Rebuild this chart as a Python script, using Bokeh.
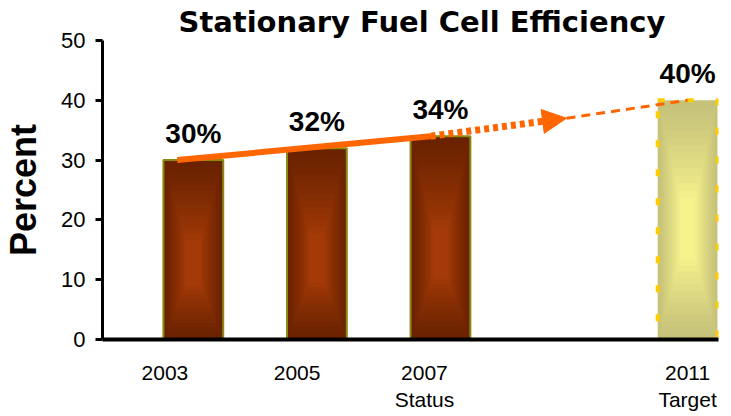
from bokeh.plotting import figure
from bokeh.models import Range1d, FixedTicker, Arrow, NormalHead, ColumnDataSource
from bokeh.core.properties import value
from bokeh.embed import file_html
from bokeh.resources import INLINE

# ---- data ----
years = [2003, 2005, 2007, 2011]
efficiency = [30, 32, 34, 40]
value_labels = ["30%", "32%", "34%", "40%"]
tick_labels = ["2003", "2005", "2007\nStatus", "2011\nTarget"]
y_ticks = [0, 10, 20, 30, 40, 50]

# ---- derived positions (one slot per two years) ----
pos = [(yr - years[0]) / 2 for yr in years]
label_shift = [-0.23, -0.16, -0.13, 0.0]   # label placement (style)
label_pos = [p_ + s for p_, s in zip(pos, label_shift)]

ORANGE = "#ff6600"
FONT = "Liberation Sans"

p = figure(width=731, height=416, output_backend="svg", toolbar_location=None,
           x_range=Range1d(-0.735, 4.25), y_range=Range1d(0, 50),
           min_border_left=100, min_border_right=13, min_border_top=39,
           min_border_bottom=77)
p.outline_line_color = None
p.grid.visible = False
p.background_fill_color = "white"

# title
p.title.text = "Stationary Fuel Cell Efficiency"
p.title.text_font = "DejaVu Sans"
p.title.text_font_size = "29px"
p.title.text_font_style = "bold"
p.title.text_color = "black"
p.title.align = "left"
p.title.offset = 76
p.title.standoff = 4

# ---- bars with simulated radial gradient ----
def lerp(c1, c2, t):
    a = [int(c1[i:i+2], 16) for i in (1, 3, 5)]
    b = [int(c2[i:i+2], 16) for i in (1, 3, 5)]
    return "#%02x%02x%02x" % tuple(round(a[k] + (b[k] - a[k]) * t) for k in range(3))

BW = 0.484
N = 14
for i, (x, v) in enumerate(zip(pos, efficiency)):
    target = (i == len(pos) - 1)
    edge, center = ("#c6c27a", "#fbf78e") if target else ("#6a2200", "#a83c08")
    cy = v * (0.45 if target else 0.40)
    xs, ys, ws, hs, cs = [], [], [], [], []
    for k in range(N):
        f = k / N
        w = BW * (1 - 0.8 * f)
        h_top = (v - cy) * (1 - 0.8 * f)
        h_bot = cy * (1 - 0.8 * f)
        xs.append(x)
        ys.append(cy + (h_top - h_bot) / 2)
        ws.append(w)
        hs.append(h_top + h_bot)
        cs.append(lerp(edge, center, f ** 1.2))
    p.rect(x=xs, y=ys, width=ws, height=hs, fill_color=cs, line_color=None)
    if target:
        p.vbar(x=[x], top=[v], bottom=0, width=BW, fill_color=None,
               line_color="#ffcc00", line_width=4, line_dash="7 22")
    else:
        p.vbar(x=[x], top=[v], bottom=0, width=BW, fill_color=None,
               line_color="#8a8a10", line_width=2)

# ---- value labels ----
src = ColumnDataSource(dict(x=pos, y=[v + 4.5 for v in efficiency], t=value_labels))
p.text(x="x", y="y", text="t", source=src, text_align="center", text_baseline="middle",
       text_font=value(FONT), text_font_style="bold", text_font_size="28px", text_color="black")

# ---- trend: solid, dotted with arrow, dashed ----
mid_x = (pos[2] + pos[3]) / 2
mid_y = (efficiency[2] + efficiency[3]) / 2
p.line([pos[0] - 0.13, pos[2] - 0.08], [efficiency[0], efficiency[2]],
       line_color=ORANGE, line_width=6)
p.add_layout(Arrow(end=NormalHead(size=24, fill_color=ORANGE, line_color=ORANGE, line_width=1),
                   x_start=pos[2] - 0.08, y_start=efficiency[2], x_end=mid_x + 0.02, y_end=mid_y,
                   line_color=ORANGE, line_width=7, line_dash="5 4"))
p.line([mid_x + 0.02, pos[3]], [mid_y, efficiency[3]], line_color=ORANGE,
       line_width=3, line_dash="9 6")

# ---- axes ----
p.yaxis.ticker = FixedTicker(ticks=y_ticks)
p.yaxis.axis_label = "Percent"
p.yaxis.axis_label_text_font = FONT
p.yaxis.axis_label_text_font_style = "bold"
p.yaxis.axis_label_text_font_size = "36px"
p.yaxis.axis_label_text_color = "black"
p.yaxis.axis_label_standoff = 14
p.yaxis.major_label_text_font = FONT
p.yaxis.major_label_text_font_size = "22px"
p.yaxis.major_label_text_color = "black"
p.yaxis.major_label_standoff = 10
p.yaxis.axis_line_width = 3
p.yaxis.axis_line_color = "black"
p.yaxis.major_tick_line_width = 3
p.yaxis.major_tick_line_color = "black"
p.yaxis.major_tick_out = 7
p.yaxis.major_tick_in = 0
p.yaxis.minor_tick_line_color = None

p.xaxis.ticker = FixedTicker(ticks=label_pos)
p.xaxis.major_label_overrides = {lp: t for lp, t in zip(label_pos, tick_labels)}
p.xaxis.major_label_text_font = FONT
p.xaxis.major_label_text_font_size = "21px"
p.xaxis.major_label_text_color = "black"
p.xaxis.major_label_standoff = 21
p.xaxis.axis_label_standoff = 0
p.xaxis.axis_line_width = 4
p.xaxis.axis_line_color = "black"
p.xaxis.major_tick_out = 0
p.xaxis.major_tick_in = 0
p.xaxis.major_tick_line_color = None
p.xaxis.minor_tick_line_color = None

open("out.html", "w").write(file_html(p, INLINE))
